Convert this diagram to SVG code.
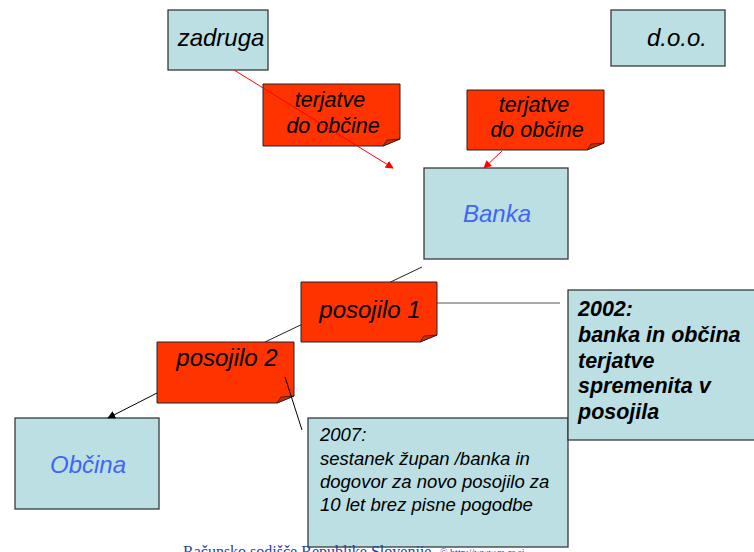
<svg xmlns="http://www.w3.org/2000/svg" width="754" height="552" viewBox="0 0 754 552">
<style>
.box{fill:#BBDFE3;stroke:#3a3a3a;stroke-width:1.3}
.note{fill:#FF3300;stroke:#222;stroke-width:1}
.ear{fill:#D42A00;stroke:#222;stroke-width:0.8}
.t{font-family:"Liberation Sans",Arial,sans-serif;font-style:italic;fill:#000}
.blue{fill:#3F66F5}
.b{font-weight:bold}
</style>
<defs>
<marker id="ar" viewBox="0 0 10 10" refX="9" refY="5" markerWidth="8" markerHeight="8" orient="auto" markerUnits="userSpaceOnUse"><path d="M0,0L10,5L0,10z" fill="#FF0000"/></marker>
<marker id="ak" viewBox="0 0 10 10" refX="9" refY="5" markerWidth="8" markerHeight="8" orient="auto" markerUnits="userSpaceOnUse"><path d="M0,0L10,5L0,10z" fill="#000"/></marker>
</defs>
<rect width="754" height="552" fill="#fff"/>
<g id="connectors">
<line x1="422" y1="267" x2="265" y2="342" stroke="#222" stroke-width="1"/>
<line x1="437" y1="303" x2="560" y2="303" stroke="#555" stroke-width="1.2"/>
</g>
<g id="zadruga"><rect class="box" x="168" y="10" width="100" height="60"/><text class="t" x="221" y="46" font-size="24" text-anchor="middle">zadruga</text></g>
<g id="doo"><rect class="box" x="611" y="10" width="114" height="56"/><text class="t" x="677" y="46" font-size="24" text-anchor="middle">d.o.o.</text></g>
<g id="banka"><rect class="box" x="424" y="168" width="144" height="91"/><text class="t blue" x="497" y="222" font-size="24" text-anchor="middle">Banka</text></g>
<g id="obcina"><rect class="box" x="15" y="418" width="144" height="91"/><text class="t blue" x="88" y="473" font-size="24" text-anchor="middle">Občina</text></g>
<g id="note1"><path class="note" d="M263,84H400V139L383,146H263Z"/><path class="ear" d="M383,146L387,140L400,139Z"/><text class="t" x="330" y="107" font-size="21.5" text-anchor="middle">terjatve</text><text class="t" x="333" y="133" font-size="21.5" text-anchor="middle">do občine</text></g>
<g id="note2"><path class="note" d="M467,90H604V143L587,150H467Z"/><path class="ear" d="M587,150L591,144L604,143Z"/><text class="t" x="534" y="112" font-size="21.5" text-anchor="middle">terjatve</text><text class="t" x="537" y="137" font-size="21.5" text-anchor="middle">do občine</text></g>
<g id="posojilo1"><path class="note" d="M301,282H437V335L420,342H301Z"/><path class="ear" d="M420,342L424,336L437,335Z"/><text class="t" x="370" y="318" font-size="24" text-anchor="middle">posojilo 1</text></g>
<g id="posojilo2"><path class="note" d="M157,342H294V396L277,403H157Z"/><path class="ear" d="M277,403L281,397L294,396Z"/><text class="t" x="227" y="366" font-size="24" text-anchor="middle">posojilo 2</text></g>
<g id="arrows">
<line x1="234" y1="70" x2="393" y2="168" stroke="#FF0000" stroke-width="1" marker-end="url(#ar)"/>
<line x1="502" y1="151" x2="484" y2="168" stroke="#FF0000" stroke-width="1" marker-end="url(#ar)"/>
<line x1="157" y1="393" x2="108" y2="418" stroke="#000" stroke-width="1" marker-end="url(#ak)"/>
<line x1="285" y1="377" x2="302" y2="430" stroke="#000" stroke-width="1"/>
</g>
<g id="box2007"><rect class="box" x="308" y="418" width="260" height="129"/>
<text class="t" font-size="18.5"><tspan x="320" y="441">2007:</tspan><tspan x="320" y="465">sestanek župan /banka  in</tspan><tspan x="320" y="488">dogovor za novo posojilo za</tspan><tspan x="320" y="511">10 let brez pisne pogodbe</tspan></text></g>
<g id="box2002"><rect class="box" x="568" y="290" width="200" height="150"/>
<text class="t b" font-size="21.5"><tspan x="578" y="316">2002:</tspan><tspan x="578" y="342">banka in občina</tspan><tspan x="578" y="368">terjatve</tspan><tspan x="578" y="393">spremenita v</tspan><tspan x="578" y="419">posojila</tspan></text></g>
<g id="footer"><text x="183" y="557" font-family="'Liberation Serif','Times New Roman',serif" font-size="16" fill="#1F3FA8">Računsko sodišče Republike Slovenije</text><text x="440" y="556" font-family="'Liberation Serif','Times New Roman',serif" font-size="10" fill="#1F3FA8">©   http://www.rs-rs.si</text></g>
</svg>
